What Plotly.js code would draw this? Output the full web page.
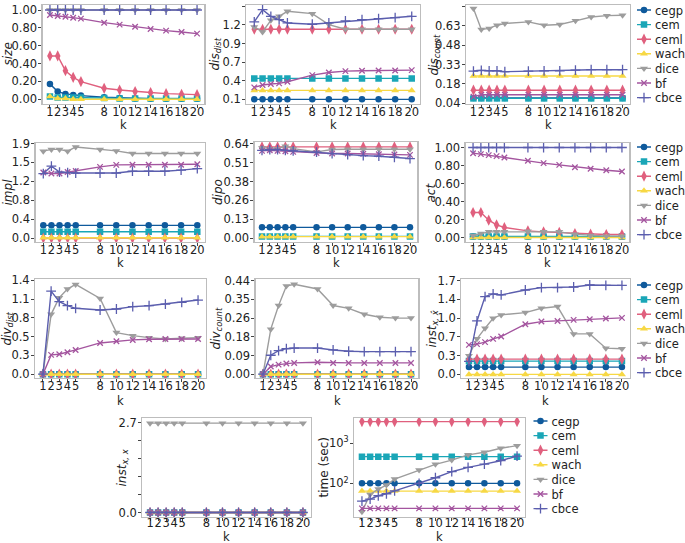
<!DOCTYPE html>
<html><head><meta charset="utf-8">
<script src="https://cdn.plot.ly/plotly-3.0.1.min.js"></script>
<style>body{margin:0;background:#fff;} #chart{width:685px;height:543px;}</style>
</head><body><div id="chart"></div>
<script>
const kValues = [1,2,3,4,5,8,10,12,14,16,18,20];
const kTickText = ['1','2','3','4','5','8','10','12','14','16','18','20'];
const methods = ['cegp','cem','ceml','wach','dice','bf','cbce'];

// values per metric, rows in the order of `methods`
const sizeVals = [
  [0.17,0.086,0.06,0.049,0.041,0.022,0.015,0.008,0.007,0.007,0.007,0.007],
  [0.03,0.02,0.02,0.02,0.02,0.015,0.01,0.01,0.01,0.01,0.01,0.01],
  [0.485,0.485,0.32,0.246,0.198,0.123,0.104,0.086,0.075,0.063,0.056,0.052],
  [0.03,0.01,0.01,0.0,0.0,0.0,0.0,0.0,0.0,0.0,0.0,0.0],
  [1,1,1,1,1,1,1,1,1,1,1,1],
  [0.944,0.933,0.925,0.914,0.903,0.858,0.836,0.813,0.787,0.769,0.754,0.735],
  [1,1,1,1,1,1,1,1,1,1,1,1]
];
const disDistVals = [
  [0.1,0.1,0.1,0.1,0.1,0.1,0.1,0.1,0.1,0.1,0.1,0.1],
  [0.415,0.415,0.415,0.415,0.415,0.415,0.415,0.415,0.415,0.415,0.415,0.415],
  [1.155,1.155,1.155,1.155,1.155,1.155,1.155,1.155,1.155,1.155,1.155,1.155],
  [0.235,0.235,0.235,0.235,0.235,0.235,0.235,0.235,0.235,0.235,0.235,0.235],
  [1.19,1.115,1.29,1.35,1.425,1.39,1.225,1.155,1.155,1.155,1.155,1.155],
  [0.28,0.315,0.33,0.34,0.365,0.465,0.505,0.525,0.53,0.535,0.535,0.54],
  [1.265,1.45,1.35,1.3,1.25,1.23,1.25,1.28,1.30,1.315,1.33,1.35]
];
const disCountVals = [
  [0.08,0.08,0.08,0.08,0.08,0.08,0.08,0.08,0.08,0.08,0.08,0.08],
  [0.077,0.077,0.077,0.077,0.077,0.077,0.077,0.077,0.077,0.077,0.077,0.077],
  [0.139,0.139,0.139,0.139,0.139,0.139,0.139,0.139,0.139,0.139,0.139,0.139],
  [0.246,0.246,0.246,0.246,0.246,0.246,0.246,0.246,0.246,0.246,0.246,0.246],
  [0.753,0.596,0.604,0.628,0.641,0.653,0.628,0.633,0.661,0.69,0.70,0.703],
  [0.09,0.105,0.105,0.105,0.105,0.105,0.105,0.105,0.105,0.105,0.105,0.105],
  [0.283,0.288,0.285,0.285,0.278,0.283,0.285,0.285,0.29,0.293,0.293,0.293]
];
const implVals = [
  [0.258,0.258,0.258,0.258,0.258,0.258,0.258,0.258,0.258,0.258,0.258,0.258],
  [0.129,0.129,0.129,0.129,0.129,0.129,0.129,0.129,0.129,0.129,0.129,0.129],
  [0,0,0,0,0,0,0,0,0,0,0,0],
  [0.005,0.005,0.005,0.005,0.005,0.005,0.005,0.005,0.005,0.005,0.005,0.005],
  [1.764,1.80,1.80,1.764,1.85,1.80,1.77,1.716,1.716,1.716,1.716,1.716],
  [1.33,1.31,1.31,1.34,1.36,1.445,1.486,1.49,1.49,1.49,1.49,1.5],
  [1.31,1.46,1.34,1.33,1.32,1.32,1.32,1.357,1.357,1.357,1.38,1.41]
];
const dipoVals = [
  [0.074,0.074,0.074,0.074,0.074,0.074,0.074,0.074,0.074,0.074,0.074,0.074],
  [0.013,0.013,0.013,0.013,0.013,0.013,0.013,0.013,0.013,0.013,0.013,0.013],
  [0.618,0.618,0.618,0.618,0.618,0.618,0.618,0.618,0.618,0.618,0.618,0.618],
  [0.011,0.011,0.011,0.011,0.011,0.011,0.011,0.011,0.011,0.011,0.011,0.011],
  [0.611,0.606,0.606,0.622,0.606,0.584,0.60,0.602,0.602,0.602,0.602,0.602],
  [0.591,0.595,0.591,0.588,0.584,0.577,0.573,0.573,0.571,0.568,0.566,0.564],
  [0.595,0.60,0.60,0.595,0.591,0.582,0.573,0.566,0.559,0.555,0.548,0.539]
];
const actVals = [
  [0.01,0.01,0.01,0.01,0.01,0.01,0.01,0.01,0.01,0.01,0.01,0.01],
  [0.012,0.012,0.012,0.012,0.012,0.012,0.012,0.012,0.012,0.012,0.012,0.012],
  [0.278,0.278,0.193,0.141,0.111,0.074,0.063,0.056,0.044,0.037,0.033,0.033],
  [0,0,0,0,0,0,0,0,0,0,0,0],
  [0.022,0.044,0.063,0.063,0.063,0.07,0.063,0.063,0.037,0.022,0.015,0.015],
  [0.937,0.926,0.915,0.904,0.889,0.852,0.826,0.807,0.781,0.763,0.748,0.733],
  [1,1,1,1,1,1,1,1,1,1,1,1]
];
const divDistVals = [
  [0,0,0,0,0,0,0,0,0,0,0,0],
  [0,0,0,0,0,0,0,0,0,0,0,0],
  [0,0,0,0,0,0,0,0,0,0,0,0],
  [0,0,0,0,0,0,0,0,0,0,0,0],
  [0,0.868,1.109,1.234,1.302,1.099,0.603,0.559,0.530,0.511,0.521,0.530],
  [0,0.28,0.289,0.318,0.352,0.453,0.477,0.497,0.506,0.511,0.511,0.511],
  [0,1.205,1.051,0.993,0.955,0.931,0.945,0.979,0.993,1.017,1.041,1.075]
];
const divCountVals = [
  [0,0,0,0,0,0,0,0,0,0,0,0],
  [0,0,0,0,0,0,0,0,0,0,0,0],
  [0,0,0,0,0,0,0,0,0,0,0,0],
  [0,0,0,0,0,0,0,0,0,0,0,0],
  [0,0.212,0.323,0.415,0.423,0.401,0.323,0.31,0.282,0.268,0.264,0.264],
  [0,0.036,0.045,0.05,0.053,0.056,0.053,0.053,0.053,0.053,0.053,0.053],
  [0,0.089,0.111,0.12,0.123,0.123,0.114,0.108,0.106,0.106,0.106,0.106]
];
const instXhatVals = [
  [0.133,0.133,0.133,0.133,0.133,0.133,0.133,0.133,0.133,0.133,0.133,0.133],
  [0.241,0.241,0.241,0.241,0.241,0.241,0.241,0.241,0.241,0.241,0.241,0.241],
  [0.277,0.277,0.277,0.277,0.277,0.277,0.277,0.277,0.277,0.277,0.277,0.277],
  [0,0,0,0,0,0,0,0,0,0,0,0],
  [0.338,0.645,0.838,1.019,1.079,1.121,1.2,1.23,0.735,0.735,0.476,0.464],
  [0.536,0.549,0.585,0.645,0.687,0.91,0.958,0.97,0.989,1.0,1.013,1.025],
  [0.235,0.97,1.41,1.459,1.441,1.531,1.573,1.573,1.585,1.621,1.615,1.615]
];
const instXVals = [
  [0,0,0,0,0,0,0,0,0,0,0,0],
  [0,0,0,0,0,0,0,0,0,0,0,0],
  [0,0,0,0,0,0,0,0,0,0,0,0],
  [0,0,0,0,0,0,0,0,0,0,0,0],
  [2.68,2.68,2.68,2.68,2.68,2.68,2.68,2.68,2.68,2.68,2.68,2.68],
  [0,0,0,0,0,0,0,0,0,0,0,0],
  [0,0,0,0,0,0,0,0,0,0,0,0]
];
const timeVals = [
  [100,100,100,100,100,100,100,100,100,100,100,100],
  [463,463,463,463,463,463,463,463,463,463,463,463],
  [3470,3470,3470,3470,3470,3470,3470,3470,3470,3470,3470,3470],
  [64,64,64,64,64,64,64,64,64,64,64,64],
  [19.5,53,72,90.6,128,214,298,380,513,596,750,870],
  [23.7,23.7,23.7,23.7,23.7,23.7,23.7,23.7,23.7,23.7,23.7,23.7],
  [36,40.5,49,55,65,100,138,195,251,302,367,478]
];

const colors = {cegp:'#0f5a9c', cem:'#1aa6b7', ceml:'#e0607e', wach:'#f7d844', dice:'#9d9d9d', bf:'#a4559f', cbce:'#5b5eae'};
const symbols = {cegp:'circle', cem:'square', ceml:'diamond-tall', wach:'triangle-up', dice:'triangle-down', bf:'x-thin-open', cbce:'cross-thin-open'};
const msizes = {cegp:6.5, cem:6.5, ceml:8, wach:7, dice:7, bf:5.5, cbce:7};

function lin(a,b){const r=[];for(let i=0;i<6;i++)r.push(a+(b-a)*i/5);return r;}

const W=685, H=543;
// frame: [left, right, top, bottom] in px; titleX: centre of y title in px; kY: centre of "k" in px
const panels = [
  {vals:sizeVals, title:'<i>size</i>', frame:[42.6,204.4,5,104], titleX:7, kY:125, tv:lin(0,1), tt:['0.00','0.20','0.40','0.60','0.80','1.00'], range:[-0.053,1.056]},
  {vals:disDistVals, title:'<i>dis</i><sub><i>dist</i></sub>', frame:[246.4,419.6,5,104], titleX:215, kY:125, tv:lin(0.1,1.5), tt:['0.1','0.4','0.7','0.9','1.2','1.5'], range:[0.03,1.52]},
  {vals:disCountVals, title:'<i>dis</i><sub><i>count</i></sub>', frame:[466,630,5,104], titleX:434, kY:125, tv:lin(0.04,0.77), tt:['0.04','0.18','0.33','0.48','0.63','0.77'], range:[0.035,0.78], legend:'legend'},
  {vals:implVals, title:'<i>impl</i>', frame:[35.6,205,143,242], titleX:7, kY:263, tv:lin(0,1.92), tt:['0.0','0.4','0.8','1.2','1.5','1.9'], range:[-0.08,1.93]},
  {vals:dipoVals, title:'<i>dipo</i>', frame:[254.6,417.4,142,242], titleX:218, kY:263, tv:lin(0,0.64), tt:['0.00','0.13','0.26','0.38','0.51','0.64'], range:[-0.025,0.651]},
  {vals:actVals, title:'<i>act</i>', frame:[465.6,629.4,143,242], titleX:430, kY:263, tv:lin(0,1), tt:['0.00','0.20','0.40','0.60','0.80','1.00'], range:[-0.05,1.05], legend:'legend2'},
  {vals:divDistVals, title:'<i>div</i><sub><i>dist</i></sub>', frame:[35.2,205.8,279,378], titleX:7, kY:401, tv:lin(0,1.36), tt:['0.0','0.3','0.5','0.8','1.1','1.4'], range:[-0.055,1.38]},
  {vals:divCountVals, title:'<i>div</i><sub><i>count</i></sub>', frame:[255.6,418.4,279,378], titleX:216, kY:401, tv:lin(0,0.44), tt:['0.00','0.09','0.18','0.26','0.35','0.44'], range:[-0.018,0.448]},
  {vals:instXhatVals, title:'<i>inst</i><sub><i>x, x\u0302</i></sub>', frame:[461.3,629.6,279,378], titleX:432, kY:401, tv:lin(0,1.7), tt:['0.0','0.3','0.7','1.0','1.4','1.7'], range:[-0.065,1.73], legend:'legend3'},
  {vals:instXVals, title:'<i>inst</i><sub><i>x, x</i></sub>', frame:[142.4,310.6,418,517], titleX:122, kY:536.5, xStand:-8, tv:[0,2.7], tt:['0.0','2.7'], minor:lin(0,2.7), range:[-0.135,2.835]},
  {vals:timeVals, title:'time (sec)', frame:[354.2,524.8,418,517], titleX:323, kY:536.5, xStand:-8, tv:[100,1000], tt:['10<sup>2</sup>','10<sup>3</sup>'], range:[1.16,3.63], log:true, legend:'legend4'}
];

const font = {family:'DejaVu Sans, sans-serif', size:11.5, color:'#222'};
const titleFont = {family:'DejaVu Sans, sans-serif', size:12, color:'#222'};
const kFont = {family:'DejaVu Sans, sans-serif', size:11.5, color:'#222'};
const traces = [];
const annotations = [];
const layout = {
  width:W, height:H, margin:{l:0,r:0,t:0,b:0,autoexpand:false}, paper_bgcolor:'#fff', plot_bgcolor:'#fff',
  font:font, showlegend:true, annotations:annotations
};

panels.forEach((p,i)=>{
  const n = i===0 ? '' : String(i+1);
  const [L,R,T,B] = p.frame;
  layout['xaxis'+n] = {
    domain:[L/W, R/W], anchor:'y'+n, range:[0.05,20.95], tickmode:'array', tickvals:kValues, ticktext:kTickText,
    tickangle:0, showgrid:false, zeroline:false, showline:true, mirror:true, linecolor:'#bdbdbd', linewidth:1.2,
    ticks:'outside', ticklen:3, tickcolor:'#444', tickfont:font, automargin:false, ticklabelstandoff:(p.xStand||-6)
  };
  const ya = {
    domain:[1-B/H, 1-T/H], anchor:'x'+n, type:p.log?'log':'linear', range:p.range, tickmode:'array', tickvals:p.tv, ticktext:p.tt,
    showgrid:false, zeroline:false, showline:true, mirror:true, linecolor:'#bdbdbd', linewidth:1.2,
    ticks:'outside', ticklen:3, tickcolor:'#444', tickfont:font, automargin:false, ticklabelstandoff:-1
  };
  if (p.minor) ya.minor = {tickmode:'array', tickvals:p.minor, ticks:'outside', ticklen:3, tickcolor:'#444', showgrid:false};
  layout['yaxis'+n] = ya;
  annotations.push({xref:'paper', yref:'paper', x:p.titleX/W, y:1-((T+B)/2)/H, xanchor:'center', yanchor:'middle',
    text:p.title, textangle:-90, showarrow:false, font:titleFont, borderpad:0});
  annotations.push({xref:'paper', yref:'paper', x:((L+R)/2)/W, y:1-p.kY/H, xanchor:'center', yanchor:'middle',
    text:'k', showarrow:false, font:kFont, borderpad:0});
  methods.forEach((m,j)=>{
    const open = symbols[m].indexOf('open')>=0;
    traces.push({
      type:'scatter', mode:'lines+markers', name:m, x:kValues, y:p.vals[j],
      xaxis:'x'+n, yaxis:'y'+n,
      line:{color:colors[m], width:1.4},
      marker:{symbol:symbols[m], size:msizes[m], color:colors[m], line:{color:colors[m], width:open?1.3:0}},
      showlegend: !!p.legend, legend: p.legend || 'legend'
    });
  });
});

// legends: first entry centre (px from top), marker centre x (px), entries 14.6 px apart
const legendFirst = {legend:10, legend2:147, legend3:285, legend4:421};
const legendMarkerX = {legend:644, legend2:644, legend3:644, legend4:540.5};
Object.keys(legendFirst).forEach(id=>{
  layout[id] = {font:font, bgcolor:'rgba(0,0,0,0)', borderwidth:0, xanchor:'left', yanchor:'top',
    x:(legendMarkerX[id]-20)/W, y:1-(legendFirst[id]-14.5)/H, tracegroupgap:0, itemwidth:30};
});
const legendStep = 14.6;

function parseT(el){
  const tr = (el && el.getAttribute('transform')) || '';
  const mm = tr.match(/translate\(\s*([-\d.e]+)(?:[ ,]+([-\d.e]+))?\s*\)/);
  return mm ? [parseFloat(mm[1]), parseFloat(mm[2]||0)] : [0,0];
}

Plotly.newPlot('chart', traces, layout, {staticPlot:true, displayModeBar:false}).then(gd=>{
  Object.keys(legendFirst).forEach(id=>{
    const lg = gd.querySelector('.infolayer > g.' + id);
    if(!lg) return;
    const [lx, ly] = parseT(lg);
    const sb = lg.querySelector('.scrollbox');
    const [sx, sy] = parseT(sb);
    const items = lg.querySelectorAll('g.traces');
    items.forEach((it,idx)=>{
      const x = legendMarkerX[id] - 20 - lx - sx;
      const y = legendFirst[id] + idx*legendStep - ly - sy;
      it.setAttribute('transform', 'translate(' + x + ',' + y + ')');
      it.querySelectorAll('path.js-line, .legendlines path').forEach(pth=>pth.setAttribute('d','M13,0h14'));
      it.querySelectorAll(':scope > text').forEach(t=>t.setAttribute('transform', 'translate(-9,0)'));
    });
  });
});
</script></body></html>
